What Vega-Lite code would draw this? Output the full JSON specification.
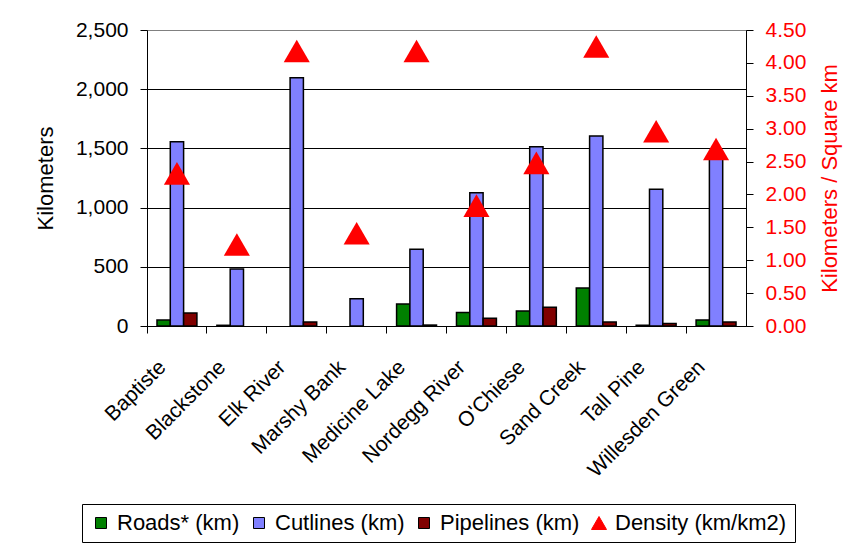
{
  "$schema": "https://vega.github.io/schema/vega-lite/v6.json",
  "width": 599,
  "height": 296,
  "autosize": {"type": "none"},
  "padding": {"left": 147, "top": 30, "right": 108, "bottom": 218},
  "background": "white",
  "config": {
    "font": "Liberation Sans",
    "view": {"stroke": "#808080", "strokeWidth": 1},
    "axis": {"labelColor": "black", "titleColor": "black", "domainColor": "black", "tickColor": "black", "titleFontWeight": "normal", "labelFont": "Liberation Sans", "titleFont": "Liberation Sans"},
    "legend": {"labelFont": "Liberation Sans"}
  },
  "datasets": {
    "bars": [
      {"site": "Baptiste", "series": "Roads* (km)", "km": 50},
      {"site": "Baptiste", "series": "Cutlines (km)", "km": 1557},
      {"site": "Baptiste", "series": "Pipelines (km)", "km": 110},
      {"site": "Blackstone", "series": "Roads* (km)", "km": 6},
      {"site": "Blackstone", "series": "Cutlines (km)", "km": 481},
      {"site": "Elk River", "series": "Cutlines (km)", "km": 2097},
      {"site": "Elk River", "series": "Pipelines (km)", "km": 34},
      {"site": "Marshy Bank", "series": "Cutlines (km)", "km": 231},
      {"site": "Medicine Lake", "series": "Roads* (km)", "km": 186},
      {"site": "Medicine Lake", "series": "Cutlines (km)", "km": 648},
      {"site": "Medicine Lake", "series": "Pipelines (km)", "km": 8},
      {"site": "Nordegg River", "series": "Roads* (km)", "km": 113},
      {"site": "Nordegg River", "series": "Cutlines (km)", "km": 1126},
      {"site": "Nordegg River", "series": "Pipelines (km)", "km": 65},
      {"site": "O'Chiese", "series": "Roads* (km)", "km": 127},
      {"site": "O'Chiese", "series": "Cutlines (km)", "km": 1514},
      {"site": "O'Chiese", "series": "Pipelines (km)", "km": 158},
      {"site": "Sand Creek", "series": "Roads* (km)", "km": 321},
      {"site": "Sand Creek", "series": "Cutlines (km)", "km": 1605},
      {"site": "Sand Creek", "series": "Pipelines (km)", "km": 34},
      {"site": "Tall Pine", "series": "Roads* (km)", "km": 6},
      {"site": "Tall Pine", "series": "Cutlines (km)", "km": 1154},
      {"site": "Tall Pine", "series": "Pipelines (km)", "km": 22},
      {"site": "Willesden Green", "series": "Roads* (km)", "km": 51},
      {"site": "Willesden Green", "series": "Cutlines (km)", "km": 1440},
      {"site": "Willesden Green", "series": "Pipelines (km)", "km": 34}
    ],
    "density": [
      {"site": "Baptiste", "series": "Density (km/km2)", "density": 2.32},
      {"site": "Blackstone", "series": "Density (km/km2)", "density": 1.24},
      {"site": "Elk River", "series": "Density (km/km2)", "density": 4.18},
      {"site": "Marshy Bank", "series": "Density (km/km2)", "density": 1.41},
      {"site": "Medicine Lake", "series": "Density (km/km2)", "density": 4.18},
      {"site": "Nordegg River", "series": "Density (km/km2)", "density": 1.83},
      {"site": "O'Chiese", "series": "Density (km/km2)", "density": 2.48},
      {"site": "Sand Creek", "series": "Density (km/km2)", "density": 4.25},
      {"site": "Tall Pine", "series": "Density (km/km2)", "density": 2.96},
      {"site": "Willesden Green", "series": "Density (km/km2)", "density": 2.69}
    ]
  },
  "encoding": {
    "x": {
      "field": "site", "type": "nominal", "sort": null,
      "scale": {"domain": ["Baptiste", "Blackstone", "Elk River", "Marshy Bank", "Medicine Lake", "Nordegg River", "O'Chiese", "Sand Creek", "Tall Pine", "Willesden Green"], "paddingInner": 0, "paddingOuter": 0},
      "axis": {"title": null, "bandPosition": 0, "labelAngle": -45, "labelAlign": "right", "labelBaseline": "top", "labelFontSize": 21, "labelPadding": 23, "labelOffset": -22, "tickSize": 7, "labelBound": false, "labelOverlap": false, "grid": false}
    }
  },
  "layer": [
    {
      "data": {"name": "bars"},
      "mark": {"type": "bar", "stroke": "black", "strokeWidth": 1.5},
      "encoding": {
        "xOffset": {"field": "series", "type": "nominal", "scale": {"domain": ["Roads* (km)", "Cutlines (km)", "Pipelines (km)"], "paddingInner": 0, "paddingOuter": 0.75}},
        "y": {
          "field": "km", "type": "quantitative",
          "scale": {"domain": [0, 2500], "nice": false},
          "axis": {"title": "Kilometers", "values": [0, 500, 1000, 1500, 2000, 2500], "format": ",.0f", "labelFontSize": 21, "titleFontSize": 22, "tickSize": 7, "labelPadding": 12, "titlePadding": 18, "grid": true, "gridColor": {"condition": {"test": "datum.value >= 2500", "value": "#808080"}, "value": "black"}, "gridWidth": 1}
        },
        "color": {
          "field": "series", "type": "nominal",
          "scale": {"domain": ["Roads* (km)", "Cutlines (km)", "Pipelines (km)", "Density (km/km2)"], "range": ["#008000", "#8080FF", "#800000", "#FF0000"]},
          "legend": {"title": null, "orient": "none", "legendX": -65, "legendY": 474, "direction": "horizontal", "columns": 4, "labelFontSize": 22, "labelLimit": 0, "labelColor": "black", "labelOffset": 5, "columnPadding": 8, "padding": 8, "strokeColor": "black", "fillColor": "white", "symbolSize": 225, "symbolOpacity": 1, "symbolStrokeWidth": 1,
            "encode": {"symbols": {"update": {"stroke": {"signal": "datum.value === 'Density (km/km2)' ? '#FF0000' : 'black'"}, "size": {"signal": "datum.value === 'Density (km/km2)' ? 225 : 121"}}}}}
        }
      }
    },
    {
      "data": {"name": "density"},
      "mark": {"type": "point", "filled": true, "opacity": 1, "size": 680},
      "encoding": {
        "y": {
          "field": "density", "type": "quantitative",
          "scale": {"domain": [0, 4.5], "nice": false},
          "axis": {"orient": "right", "title": "Kilometers / Square km", "values": [0, 0.5, 1, 1.5, 2, 2.5, 3, 3.5, 4, 4.5], "format": ".2f", "labelFontSize": 21, "titleFontSize": 22, "labelColor": "#FF0000", "titleColor": "#FF0000", "tickSize": 7, "labelPadding": 12, "titlePadding": 14, "titleAngle": 270, "titleBaseline": "top", "grid": false}
        },
        "color": {
          "field": "series", "type": "nominal",
          "legend": {"title": null, "orient": "none", "legendX": -65, "legendY": 474, "direction": "horizontal", "columns": 4, "labelFontSize": 22, "labelLimit": 0, "labelColor": "black", "labelOffset": 5, "columnPadding": 8, "padding": 8, "strokeColor": "black", "fillColor": "white", "symbolSize": 225, "symbolOpacity": 1, "symbolStrokeWidth": 1,
            "encode": {"symbols": {"update": {"stroke": {"signal": "datum.value === 'Density (km/km2)' ? '#FF0000' : 'black'"}, "size": {"signal": "datum.value === 'Density (km/km2)' ? 225 : 121"}}}}}
        },
        "shape": {
          "field": "series", "type": "nominal",
          "scale": {"domain": ["Roads* (km)", "Cutlines (km)", "Pipelines (km)", "Density (km/km2)"], "range": ["square", "square", "square", "triangle-up"]},
          "legend": {"title": null, "orient": "none", "legendX": -65, "legendY": 474, "direction": "horizontal", "columns": 4, "labelFontSize": 22, "labelLimit": 0, "labelColor": "black", "labelOffset": 5, "columnPadding": 8, "padding": 8, "strokeColor": "black", "fillColor": "white", "symbolSize": 225, "symbolOpacity": 1, "symbolStrokeWidth": 1,
            "encode": {"symbols": {"update": {"stroke": {"signal": "datum.value === 'Density (km/km2)' ? '#FF0000' : 'black'"}, "size": {"signal": "datum.value === 'Density (km/km2)' ? 225 : 121"}}}}}
        }
      }
    }
  ],
  "resolve": {"scale": {"y": "independent"}}
}
